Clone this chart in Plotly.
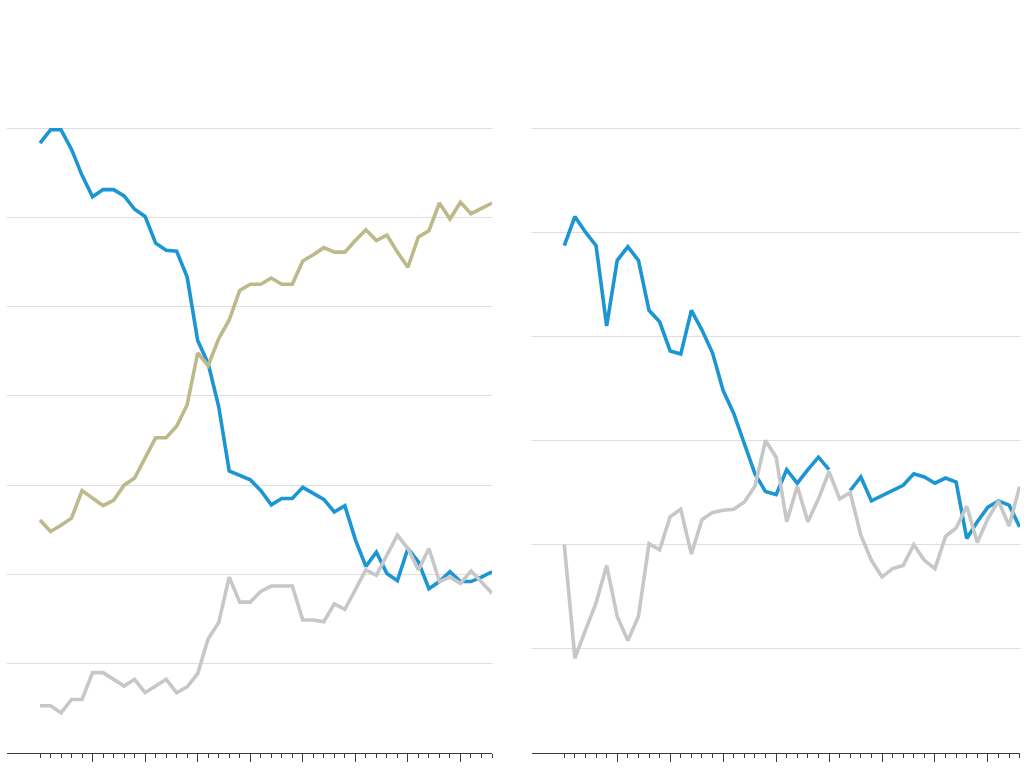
import plotly.graph_objects as go

years = list(range(1975, 2019))

left_blue = [68.3, 69.8, 69.8, 67.6, 64.7, 62.3, 63.1, 63.1, 62.4, 60.9,
             60.1, 57.1, 56.3, 56.2, 53.3, 46.2, 43.6, 38.8, 31.6, 31.1,
             30.6, 29.4, 27.8, 28.5, 28.5, 29.75, 29.1, 28.4, 27.0, 27.7,
             23.9, 20.9, 22.5, 20.1, 19.3, 22.9, 21.4, 18.4, 19.2, 20.3,
             19.2, 19.2, 19.7, 20.3]
left_khaki = [26.1, 24.8, 25.5, 26.3, 29.4, 28.6, 27.7, 28.3, 30.0, 30.8,
              33.0, 35.3, 35.3, 36.6, 39.0, 44.8, 43.4, 46.4, 48.5, 51.8,
              52.5, 52.5, 53.2, 52.5, 52.5, 55.1, 55.8, 56.6, 56.1, 56.1,
              57.4, 58.6, 57.4, 58.0, 56.1, 54.4, 57.8, 58.5, 61.6, 59.8,
              61.7, 60.4, 61.0, 61.6]
left_grey = [5.3, 5.3, 4.5, 6.0, 6.0, 9.0, 9.0, 8.25, 7.5, 8.25,
             6.75, 7.5, 8.25, 6.75, 7.4, 8.9, 12.8, 14.6, 19.7, 16.9,
             16.9, 18.1, 18.7, 18.7, 18.7, 14.9, 14.9, 14.7, 16.7, 16.1,
             18.4, 20.5, 19.9, 22.2, 24.4, 22.9, 20.5, 22.9, 19.2, 19.7,
             19.0, 20.4, 19.2, 17.9]

right_blue = [48.7, 51.5, 50.0, 48.7, 41.0, 47.3, 48.6, 47.3, 42.5, 41.4,
              38.6, 38.3, 42.5, 40.6, 38.4, 34.8, 32.6, 29.7, 26.8, 25.1,
              24.8, 27.2, 25.9, 27.2, 28.4, 27.2, None, 25.2, 26.5, 24.2,
              24.7, 25.2, 25.7, 26.8, 26.5, 25.9, 26.4, 26.0, 20.6, 22.2,
              23.6, 24.2, 23.8, 21.7]
right_grey = [20.0, 9.1, 11.8, 14.4, 18.0, 13.1, 10.8, 13.1, 20.1, 19.5,
              22.7, 23.4, 19.1, 22.4, 23.1, 23.3, 23.4, 24.1, 25.6, 30.0,
              28.4, 22.2, 25.6, 22.2, 24.4, 27.0, 24.4, 25.0, 20.9, 18.5,
              16.9, 17.7, 18.0, 20.0, 18.5, 17.7, 20.8, 21.6, 23.7, 20.2,
              22.5, 24.2, 21.8, 25.6]

left_grid = [0, 10, 20, 30, 40, 50, 60, 70]
right_grid = [0, 10, 20, 30, 40, 50, 60]
major_years = [1980, 1985, 1990, 1995, 2000, 2005, 2010, 2015]

BLUE = "#1b96d3"
KHAKI = "#bdb98b"
GREY = "#c6c7c9"
LW = 3.6

fig = go.Figure()
fig.add_trace(go.Scatter(x=years, y=left_blue, mode="lines",
                         line=dict(color=BLUE, width=LW), xaxis="x", yaxis="y"))
fig.add_trace(go.Scatter(x=years, y=left_khaki, mode="lines",
                         line=dict(color=KHAKI, width=LW), xaxis="x", yaxis="y"))
fig.add_trace(go.Scatter(x=years, y=left_grey, mode="lines",
                         line=dict(color=GREY, width=LW), xaxis="x", yaxis="y"))
fig.add_trace(go.Scatter(x=years, y=right_blue, mode="lines",
                         line=dict(color=BLUE, width=LW), xaxis="x2", yaxis="y2"))
fig.add_trace(go.Scatter(x=years, y=right_grey, mode="lines",
                         line=dict(color=GREY, width=LW), xaxis="x2", yaxis="y2"))

W, H = 1024, 784
base_px, top_px = 753, 119.07
ydom = [(H - base_px) / H, (H - top_px) / H]


def xaxis_cfg(dom, rng):
    return dict(domain=dom, range=rng, showgrid=False, zeroline=False,
                showline=True, linecolor="#3a3a3a", linewidth=1.2,
                ticks="outside", tickmode="array", tickvals=major_years,
                ticklen=8, tickwidth=1.2, tickcolor="#3a3a3a",
                showticklabels=False,
                minor=dict(ticks="outside", tickmode="array", tickvals=years,
                           ticklen=4, tickwidth=1.2, tickcolor="#3a3a3a"))


def yaxis_cfg(anchor, grid, rng):
    return dict(domain=ydom, anchor=anchor, range=rng, tickmode="array",
                tickvals=grid, showticklabels=False, showgrid=True,
                gridcolor="#dedede", gridwidth=1, zeroline=False,
                showline=False, ticks="")


fig.update_layout(
    width=W, height=H,
    margin=dict(l=0, r=0, t=0, b=0),
    paper_bgcolor="white", plot_bgcolor="white",
    showlegend=False,
    xaxis=xaxis_cfg([7 / W, 492 / W], [1975 - 3.14, 2018]),
    yaxis=yaxis_cfg("x", left_grid, [0, 71]),
    xaxis2=xaxis_cfg([532 / W, 1020 / W], [1975 - 3.05, 2018.03]),
    yaxis2=yaxis_cfg("x2", right_grid, [0, 60.86]),
)
fig.update_layout(xaxis2=dict(anchor="y2"), xaxis=dict(anchor="y"))

fig.write_html("out.html", post_script="document.body.style.margin='0';",
               config={"displayModeBar": False})
